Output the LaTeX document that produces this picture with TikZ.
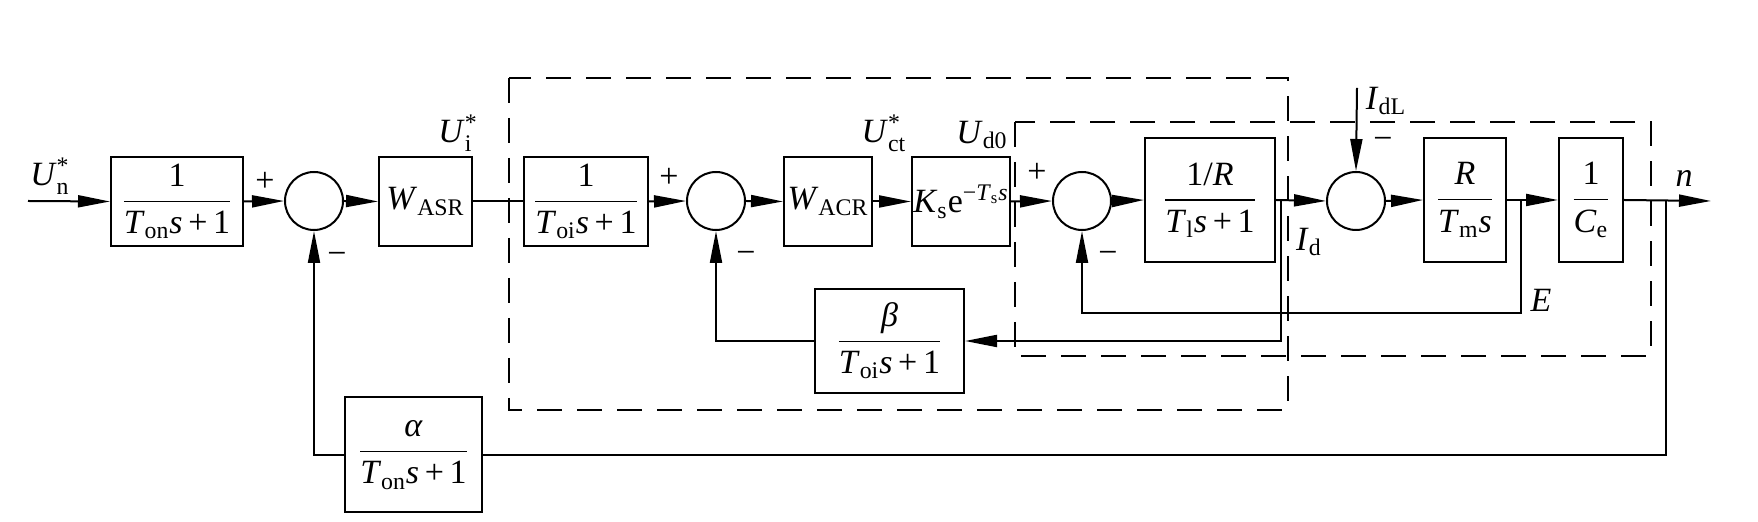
\documentclass[tikz,border=0pt]{standalone}
\usepackage{amsmath}
\usepackage{fontspec}
\setmainfont{Liberation Serif}
\usetikzlibrary{arrows.meta}
\newcommand\sx[2]{$\text{}^{\text{#1}}_{\text{#2}}$}
\newcommand\vi[1]{\textit{#1}}
\newcommand\fr[2]{$\displaystyle\frac{\mbox{#1}}{\mbox{#2}}$}
\begin{document}
\begin{tikzpicture}[x=0.5pt,y=-0.5pt,
  blk/.style={draw, line width=1pt, inner sep=0pt, font=\fontsize{17}{20}\selectfont},
  sumc/.style={draw, circle, line width=1pt, minimum size=29pt, inner sep=0pt},
  arr/.style={line width=1pt, -{Triangle[length=16pt,width=6pt]}},
  ln/.style={line width=1pt},
  dsh/.style={line width=1pt, dash pattern=on 12.5pt off 7.5pt},
  lbl/.style={inner sep=0pt, font=\fontsize{17}{20}\selectfont}]
\useasboundingbox (0,0) rectangle (1758,522);
% blocks
\node[blk, minimum width=66pt, minimum height=44.5pt] (b1) at (177,201.5) {\fr{1}{\vi{T}\textsubscript{on}\vi{s}\,+\,1}};
\node[sumc] (s1) at (314,201) {};
\node[blk, minimum width=46.5pt, minimum height=44.5pt] (wasr) at (425.5,201.5) {\vi{W}\textsubscript{ASR}};
\node[blk, minimum width=62pt, minimum height=44.5pt] (b2) at (586,201.5) {\fr{1}{\vi{T}\textsubscript{oi}\vi{s}\,+\,1}};
\node[sumc] (s2) at (716,201) {};
\node[blk, minimum width=44pt, minimum height=44.5pt] (wacr) at (828,201.5) {\vi{W}\textsubscript{ACR}};
\node[blk, minimum width=49pt, minimum height=44.5pt] (ks) at (961,201.5) {\vi{K}\textsubscript{s}e\textsuperscript{−\vi{T}\textsubscript{s}\vi{s}}};
\node[sumc] (s3) at (1082,201) {};
\node[blk, minimum width=65pt, minimum height=62pt] (bR) at (1210,200) {\fr{1/\vi{R}}{\vi{T}\textsubscript{l}\vi{s}\,+\,1}};
\node[sumc] (s4) at (1356,201) {};
\node[blk, minimum width=41pt, minimum height=62pt] (bTm) at (1465,200) {\fr{\vi{R}}{\vi{T}\textsubscript{m}\vi{s}}};
\node[blk, minimum width=32pt, minimum height=62pt] (bCe) at (1591,200) {\fr{1}{\vi{C}\textsubscript{e}}};
\node[blk, minimum width=74.5pt, minimum height=52pt] (beta) at (889.5,341) {\fr{\vi{β}}{\vi{T}\textsubscript{oi}\vi{s}\,+\,1}};
\node[blk, minimum width=68.5pt, minimum height=57.5pt] (alpha) at (413.5,455) {\fr{\vi{α}}{\vi{T}\textsubscript{on}\vi{s}\,+\,1}};
% dashed regions
\draw[dsh] (509,78) rectangle (1288,410);
\draw[dsh] (1015,122) rectangle (1651,356);
% coordinates
\coordinate (in) at (28,201);
\coordinate (out) at (1711,201);
\coordinate (idl) at (1357,88);
\coordinate (idb) at (1281,201);
\coordinate (eb) at (1521,201);
\coordinate (ec) at (1521,313);
\coordinate (nb) at (1666,201);
% forward path
\draw[arr] (in) -- (b1.west);
\draw[arr] (b1.east) -- (s1.west);
\draw[arr] (s1.east) -- (wasr.west);
\draw[ln] (wasr.east) -- (b2.west);
\draw[arr] (b2.east) -- (s2.west);
\draw[arr] (s2.east) -- (wacr.west);
\draw[arr] (wacr.east) -- (ks.west);
\draw[arr] (ks.east) -- (s3.west);
\draw[arr] (s3.east) -- (bR.west);
\draw[arr] (bR.east) -- (s4.west);
\draw[arr] (s4.east) -- (bTm.west);
\draw[arr] (bTm.east) -- (bCe.west);
\draw[arr] (bCe.east) -- (out);
\draw[arr] (idl) -- (s4.north);
% feedback paths
\draw[arr] (eb) -- (ec) -| (s3.south);
\draw[arr] (idb) |- (beta.east);
\draw[arr] (beta.west) -| (s2.south);
\draw[ln] (nb) |- (alpha.east);
\draw[arr] (alpha.west) -| (s1.south);
% labels
\node[lbl] (lun) at (50,176) {\vi{U}\sx{*}{n}};
\node[lbl] (lui) at (458,133) {\vi{U}\sx{*}{i}};
\node[lbl] (luct) at (884,133) {\vi{U}\sx{*}{ct}};
\node[lbl] (lud) at (982,135) {\vi{U}\textsubscript{d0}};
\node[lbl] (p1) at (265,182) {+};
\node[lbl] (p2) at (669,178) {+};
\node[lbl] (p3) at (1037,173) {+};
\node[lbl] (m1) at (337,258) {−};
\node[lbl] (m2) at (746,257) {−};
\node[lbl] (m3) at (1108,257) {−};
\node[lbl] (m4) at (1383,143) {−};
\node[lbl] (lid) at (1309,242) {\vi{I}\textsubscript{d}};
\node[lbl] (lidl) at (1386,101) {\vi{I}\textsubscript{dL}};
\node[lbl] (le) at (1541,300) {\vi{E}};
\node[lbl] (ln) at (1684,178) {\vi{n}};
\end{tikzpicture}
\end{document}
